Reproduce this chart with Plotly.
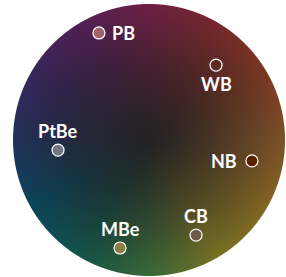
import numpy as np
import plotly.graph_objects as go

# Data: points on the colour wheel (unit-circle coordinates)
labels = ["PB", "WB", "NB", "CB", "MBe", "PtBe"]
x_vals = [-0.368, 0.493, 0.757, 0.346, -0.213, -0.669]
y_vals = [0.787, 0.551, -0.154, -0.699, -0.794, -0.074]
point_colors = ["#a2626c", "#5e2a22", "#5a2000", "#6e5848", "#8a7e40", "#707880"]

# Wheel rim colours at angles (degrees, math convention)
rim_angles = [90, 60, 30, 0, -30, -60, -90, -120, -150, -180, -210, -240, -270]
rim_colors = [(110, 32, 66), (118, 40, 44), (122, 56, 34), (126, 82, 40), (130, 102, 34),
              (120, 114, 36), (58, 106, 56), (20, 84, 72), (10, 70, 90), (34, 50, 92),
              (56, 38, 90), (82, 32, 84), (110, 32, 66)]
center_color = (36, 34, 36)

W, H = 286, 277
sc = 136.0
xr = [-149 / sc, (W - 149) / sc]
yr = [-(H - 140) / sc, 140 / sc]

# Background image covering the whole plot area (1 image pixel per screen pixel)
d = 1.0 / sc
xc = xr[0] + d / 2 + d * np.arange(W)
yc = yr[0] + d / 2 + d * np.arange(H)
XX, YY = np.meshgrid(xc, yc)
R = np.sqrt(XX**2 + YY**2)
ang = np.degrees(np.arctan2(YY, XX))
ang = np.where(ang > 90, ang - 360, ang)
ra = np.array(rim_angles[::-1], dtype=float)
rc = np.array(rim_colors[::-1], dtype=float)
img = np.zeros((H, W, 4))
f = np.clip(R, 0, 1) ** 1.2
for c in range(3):
    edge = np.interp(ang, ra, rc[:, c])
    img[:, :, c] = center_color[c] + (edge - center_color[c]) * f
alpha = np.clip((1 - R) * sc + 0.5, 0, 1)
img[:, :, 3] = alpha * 255
img = np.clip(img, 0, 255).astype(np.uint8)

fig = go.Figure()
fig.add_trace(go.Image(z=img, colormodel="rgba256", x0=xc[0], y0=yc[0], dx=d, dy=d,
                       hoverinfo="skip"))
fig.add_trace(go.Scatter(x=x_vals, y=y_vals, mode="markers",
                         marker=dict(size=12, color=point_colors,
                                     line=dict(color="white", width=1.2)),
                         hoverinfo="text", text=labels))

shifts = {"PB": (25, 0), "WB": (0, -19), "NB": (-28, 0), "CB": (0, 19), "MBe": (0, 19), "PtBe": (0, 19)}
for lab, xv, yv in zip(labels, x_vals, y_vals):
    xs, ys = shifts[lab]
    fig.add_annotation(x=xv, y=yv, text=lab, showarrow=False, xshift=xs, yshift=ys,
                       xanchor="center", yanchor="middle",
                       font=dict(family="Lato", size=18, color="white", weight=700))

fig.update_xaxes(range=xr, visible=False, showgrid=False, zeroline=False, autorange=False)
fig.update_yaxes(range=yr, visible=False, showgrid=False, zeroline=False, autorange=False)
fig.update_layout(width=W, height=H, margin=dict(l=0, r=0, t=0, b=0),
                  paper_bgcolor="white", plot_bgcolor="white", showlegend=False)
fig.write_html("out.html", config={"displayModeBar": False},
               post_script="document.body.style.margin='0';document.body.style.overflow='hidden';")
